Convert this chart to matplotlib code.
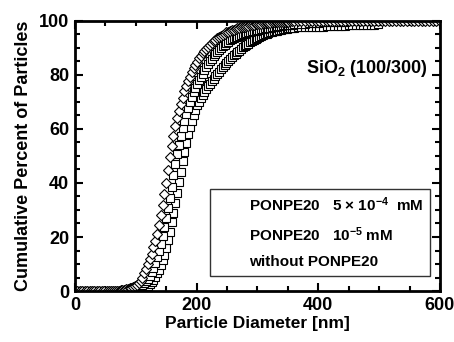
import matplotlib
matplotlib.use('Agg')
import matplotlib.pyplot as plt
import numpy as np
from matplotlib.ticker import MultipleLocator
from matplotlib.lines import Line2D

plt.rcParams['font.family'] = 'Liberation Sans'
plt.rcParams['font.weight'] = 'bold'
plt.rcParams['mathtext.fontset'] = 'custom'
plt.rcParams['mathtext.rm'] = 'Liberation Sans:bold'
plt.rcParams['mathtext.bf'] = 'Liberation Sans:bold'
plt.rcParams['mathtext.default'] = 'bf'

# diameter bins [nm] (measurement grid)
diam = np.concatenate([np.arange(0, 61, 4), np.arange(63, 361, 3), np.arange(366, 601, 6)])

# cumulative percent
# PONPE20 5x10^-4 mM (diamonds)
p_5e4 = [0.0] * 16 + [
    0, 0, 0, 0.2, 0.3, 0.4, 0.5, 0.7, 0.8, 1.0, 1.3, 1.6, 1.9, 2.4, 3.0, 3.8, 4.9, 6.5, 8.2, 10,
    11.8, 13.8, 16.2, 18.6, 21, 24.5, 28.2, 31.8, 35.8, 40, 44.8, 49.5, 53.6, 57.4, 61, 64, 66.8, 69.2, 71.6, 74,
    75.8, 77.6, 79.4, 81, 82.5, 83.7, 84.9, 86.1, 87.1, 88, 88.9, 89.7, 90.5, 91.1, 91.8, 92.4, 93, 93.5, 94, 94.5,
    94.9, 95.3, 95.7, 96, 96.3, 96.5, 96.8, 97, 97.2, 97.4, 97.6, 97.8, 97.9, 98.1, 98.2, 98.3, 98.4, 98.6, 98.7, 98.8,
    98.9, 99, 99.1, 99.1, 99.2, 99.3, 99.3, 99.4, 99.5, 99.5, 99.5, 99.6, 99.6, 99.6, 99.7, 99.7, 99.7, 99.8, 99.8, 99.8,
] + [99.8, 99.9, 99.9] + [100.0] * 37

# PONPE20 10^-5 mM (squares)
p_1e5 = [0.0] * 16 + [
    0, 0, 0, 0, 0, 0, 0.1, 0.2, 0.4, 0.5, 0.6, 0.8, 1.0, 1.2, 1.5, 1.8, 2.2, 2.8, 3.6, 4.5,
    5.7, 6.9, 8.5, 10.4, 12.5, 14.9, 17.4, 20.4, 23.6, 27, 30.6, 34.4, 38.6, 42.8, 47, 50.6, 54.1, 57.4, 60.3, 63,
    65.4, 67.7, 69.8, 71.7, 73.5, 75, 76.5, 78, 79.3, 80.5, 81.7, 82.9, 84.1, 85.1, 86, 86.9, 87.8, 88.6, 89.3, 90,
    90.6, 91.2, 91.8, 92.3, 92.8, 93.2, 93.6, 93.9, 94.2, 94.5, 94.7, 95, 95.2, 95.4, 95.7, 95.9, 96.1, 96.2, 96.4, 96.6,
    96.8, 96.9, 97.1, 97.2, 97.3, 97.4, 97.5, 97.6, 97.7, 97.9, 98, 98.1, 98.2, 98.3, 98.3, 98.4, 98.5, 98.6, 98.6, 98.7,
] + [98.8, 98.9, 99.0, 99.1, 99.2, 99.3, 99.3, 99.4, 99.5, 99.5, 99.6, 99.6, 99.7, 99.7, 99.8, 99.8, 99.8, 99.9,
     99.9, 99.9, 100, 100, 100]

# without PONPE20 (squares)
p_none = [0.0] * 16 + [
    0, 0, 0, 0, 0, 0, 0, 0, 0, 0, 0.1, 0.3, 0.4, 0.6, 0.7, 0.9, 1.1, 1.4, 1.7, 2,
    2.6, 3.3, 4.1, 5.3, 6.5, 7.9, 9.6, 11.4, 13.5, 16, 19, 22, 25.4, 28.9, 32.5, 36.4, 40.3, 44.2, 48, 51.5,
    54.8, 58, 60.7, 63.1, 65.2, 67.1, 68.7, 70.1, 71.3, 72.5, 73.7, 74.9, 75.9, 76.8, 77.8, 78.6, 79.5, 80.3, 81.2, 82,
    82.8, 83.6, 84.4, 85.1, 85.8, 86.5, 87.2, 87.8, 88.4, 89, 89.6, 90.2, 90.6, 91.1, 91.6, 92, 92.4, 92.8, 93.2, 93.6,
    94, 94.4, 94.7, 95, 95.2, 95.4, 95.7, 95.9, 96.1, 96.3, 96.4, 96.6, 96.7, 96.9, 97, 97.1, 97.2, 97.3, 97.4, 97.5,
] + [97.6, 97.6, 97.7, 97.7, 97.8, 97.8, 97.9, 97.9, 98.0, 98.0, 98.1, 98.1, 98.2, 98.2, 98.3, 98.3, 98.4,
     98.4, 98.5, 98.5, 98.6, 98.6, 98.7]

labels = ['PONPE20   5 \u00d7 10$^{-4}$  mM', 'PONPE20   10$^{-5}$ mM', 'without PONPE20']

fig = plt.figure(figsize=(4.54, 3.42), dpi=100)
ax = fig.add_axes([0.165, 0.149, 0.804, 0.79])

mk = dict(linestyle='none', markerfacecolor='white', markeredgecolor='black',
          markeredgewidth=0.8, markersize=5.5)
ax.plot(diam[:len(p_none)], p_none, marker='s', **mk)
ax.plot(diam[:len(p_1e5)], p_1e5, marker='s', **mk)
ax.plot(diam[:len(p_5e4)], p_5e4, marker='D', **mk)

ax.set_xlim(0, 600)
ax.set_ylim(0, 100)
ax.xaxis.set_major_locator(MultipleLocator(200))
ax.xaxis.set_minor_locator(MultipleLocator(50))
ax.yaxis.set_major_locator(MultipleLocator(20))
ax.yaxis.set_minor_locator(MultipleLocator(5))
ax.tick_params(which='both', direction='in', top=True, right=True, labelsize=13, width=1.5)
ax.tick_params(which='major', length=6, pad=4)
ax.tick_params(which='minor', length=3.5)
for s in ax.spines.values():
    s.set_linewidth(2)

ax.set_xlabel('Particle Diameter [nm]', fontsize=12.5, fontweight='bold', labelpad=2)
ax.set_ylabel('Cumulative Percent of Particles', fontsize=13, fontweight='bold', labelpad=5)

ax.text(0.967, 0.825, 'SiO$_2$ (100/300)', transform=ax.transAxes, ha='right', va='center',
        fontsize=13, fontweight='bold')

handles = [Line2D([], [], linestyle='none') for _ in labels]
leg = ax.legend(handles, labels, loc='lower right', bbox_to_anchor=(0.973, 0.056),
                borderaxespad=0, prop={'weight': 'bold', 'size': 11}, frameon=True,
                fancybox=False, edgecolor='black', handlelength=1.5, handletextpad=0.6,
                labelspacing=0.72, borderpad=0.45)
leg.get_frame().set_linewidth(1)

fig.savefig('out.png', dpi=100)
